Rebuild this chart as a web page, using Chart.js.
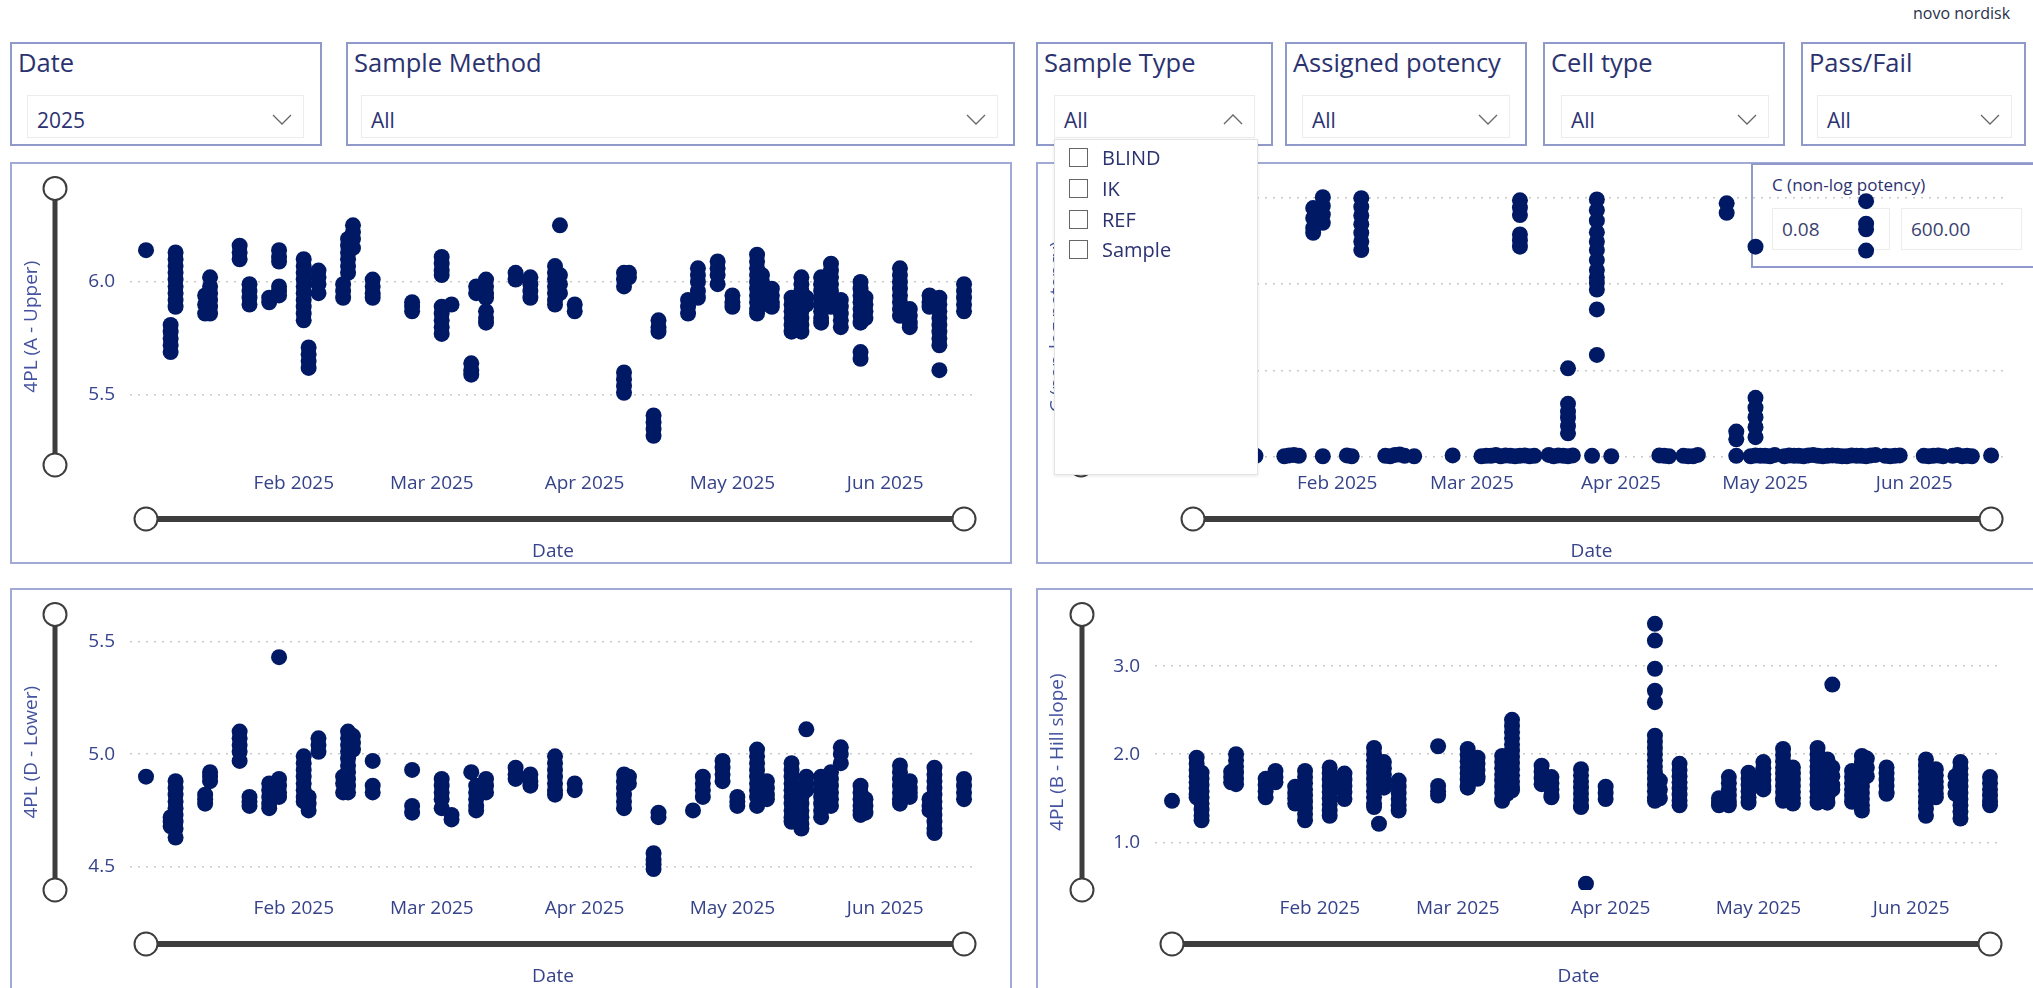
<!DOCTYPE html>
<html>
<head>
<meta charset="utf-8">
<title>4PL parameters</title>
<script src="https://cdn.jsdelivr.net/npm/chart.js@4.4.1/dist/chart.umd.min.js"></script>
<style>
  html, body { margin: 0; padding: 0; background: #fff; }
  body { width: 2033px; height: 988px; position: relative; overflow: hidden; font-family: "Open Sans", sans-serif; color: #2b3270; }
  .abs { position: absolute; }
  .box { position: absolute; box-sizing: border-box; border: 2px solid #8f9acb; background: #fff; }
  .ttl { position: absolute; top: 45px; line-height: 34px; font-size: 25.5px; color: #2b3270; white-space: nowrap; }
  .dd { position: absolute; top: 95px; height: 43px; box-sizing: border-box; border: 1px solid #ececec; background: #fff; }
  .dd span { position: absolute; left: 9px; top: 3px; line-height: 42px; font-size: 21px; color: #2b3270; }
  .dd svg { position: absolute; right: 11px; top: 18px; }
  .panel { position: absolute; box-sizing: border-box; border: 2px solid #a0aad4; background: #fff; }
  canvas { position: absolute; }
  .item { position: absolute; left: 0; height: 30px; width: 200px; }
  .item i { position: absolute; left: 14px; top: 5px; width: 17px; height: 17px; border: 1.5px solid #666; box-sizing: content-box; }
  .item span { position: absolute; left: 47px; top: 0; line-height: 30px; font-size: 20px; color: #2b3270; }
</style>
</head>
<body>

<div class="abs" style="left:1913px;top:1px;font-size:16px;line-height:24px;color:#2a2f4a;">novo nordisk</div>

<!-- slicers -->
<div class="box" style="left:10px;top:42px;width:312px;height:104px;"></div>
<div class="ttl" style="left:18px;">Date</div>
<div class="dd" style="left:27px;width:277px;"><span>2025</span><svg width="20" height="11"><polyline points="1,1 10,10 19,1" fill="none" stroke="#666" stroke-width="1.3"/></svg></div>

<div class="box" style="left:346px;top:42px;width:669px;height:104px;"></div>
<div class="ttl" style="left:354px;">Sample Method</div>
<div class="dd" style="left:361px;width:637px;"><span>All</span><svg width="20" height="11"><polyline points="1,1 10,10 19,1" fill="none" stroke="#666" stroke-width="1.3"/></svg></div>

<div class="box" style="left:1036px;top:42px;width:237px;height:104px;"></div>
<div class="ttl" style="left:1044px;">Sample Type</div>
<div class="dd" style="left:1054px;width:201px;"><span>All</span><svg width="20" height="11"><polyline points="1,10 10,1 19,10" fill="none" stroke="#666" stroke-width="1.3"/></svg></div>

<div class="box" style="left:1285px;top:42px;width:242px;height:104px;"></div>
<div class="ttl" style="left:1293px;">Assigned potency</div>
<div class="dd" style="left:1302px;width:208px;"><span>All</span><svg width="20" height="11"><polyline points="1,1 10,10 19,1" fill="none" stroke="#666" stroke-width="1.3"/></svg></div>

<div class="box" style="left:1543px;top:42px;width:242px;height:104px;"></div>
<div class="ttl" style="left:1551px;">Cell type</div>
<div class="dd" style="left:1561px;width:208px;"><span>All</span><svg width="20" height="11"><polyline points="1,1 10,10 19,1" fill="none" stroke="#666" stroke-width="1.3"/></svg></div>

<div class="box" style="left:1801px;top:42px;width:225px;height:104px;"></div>
<div class="ttl" style="left:1809px;">Pass/Fail</div>
<div class="dd" style="left:1817px;width:195px;"><span>All</span><svg width="20" height="11"><polyline points="1,1 10,10 19,1" fill="none" stroke="#666" stroke-width="1.3"/></svg></div>

<!-- chart panels -->
<div class="panel" style="left:10px;top:162px;width:1002px;height:402px;"></div>
<div class="panel" style="left:1036px;top:162px;width:1010px;height:402px;"></div>
<div class="panel" style="left:10px;top:588px;width:1002px;height:410px;"></div>
<div class="panel" style="left:1036px;top:588px;width:1010px;height:410px;"></div>

<!-- range slicer sitting under the C chart -->
<div class="box" style="left:1751px;top:163px;width:300px;height:105px;z-index:2;">
  <div class="abs" style="left:19px;top:8px;font-size:17px;line-height:24px;color:#2b3270;white-space:nowrap;">C (non-log potency)</div>
  <div class="abs" style="left:19px;top:43px;width:118px;height:42px;box-sizing:border-box;border:1px solid #ececec;font-size:19px;line-height:40px;padding-left:9px;color:#3a4270;">0.08</div>
  <div class="abs" style="left:148px;top:43px;width:121px;height:42px;box-sizing:border-box;border:1px solid #ececec;font-size:19px;line-height:40px;padding-left:9px;color:#3a4270;">600.00</div>
</div>

<canvas id="cUpper" width="1001" height="401" style="left:10px;top:162px;z-index:3;"></canvas>
<canvas id="cPot" width="997" height="401" style="left:1036px;top:162px;z-index:3;"></canvas>
<canvas id="cLower" width="1001" height="400" style="left:10px;top:588px;z-index:3;"></canvas>
<canvas id="cSlope" width="997" height="400" style="left:1036px;top:588px;z-index:3;"></canvas>

<!-- open Sample Type list -->
<div class="abs" style="left:1054px;top:139px;width:202px;height:334px;background:#fff;border:1px solid #e4e4e4;box-shadow:0 1px 3px rgba(0,0,0,0.10);z-index:5;">
  <div class="item" style="top:3px;"><i></i><span>BLIND</span></div>
  <div class="item" style="top:34px;"><i></i><span>IK</span></div>
  <div class="item" style="top:65px;"><i></i><span>REF</span></div>
  <div class="item" style="top:95px;"><i></i><span>Sample</span></div>
</div>

<script>
/* ---------- data (day number: 0 = 1 Jan 2025) ---------- */
const monthTicks = [31, 59, 90, 120, 151];
const monthLabels = ['Feb 2025', 'Mar 2025', 'Apr 2025', 'May 2025', 'Jun 2025'];

// 4PL (A - Upper)
const upperDays = [1, 6, 7, 13, 14, 20, 22, 26, 28, 33, 34, 36, 41, 42, 43, 47, 55, 61, 63, 67, 68, 70, 76, 79,
  84, 85, 88, 98, 99, 104, 105, 111, 113, 117, 120, 125, 126, 128, 132, 134, 135, 138, 140, 142, 146, 147,
  154, 156, 160, 162, 167];
const upperVals = [
  [6.14], [5.81, 5.78, 5.75, 5.72, 5.69], [6.13, 6.10, 6.07, 6.04, 6.01, 5.98, 5.95, 5.92, 5.89],
  [5.94, 5.90, 5.86], [6.02, 5.98, 5.95, 5.92, 5.89, 5.86], [6.16, 6.13, 6.10], [5.99, 5.96, 5.93, 5.90],
  [5.93, 5.91], [6.14, 6.11, 6.09, 5.98, 5.96, 5.94],
  [6.10, 6.07, 6.04, 6.01, 5.98, 5.95, 5.92, 5.89, 5.86, 5.83], [5.71, 5.68, 5.65, 5.62],
  [6.05, 6.02, 5.99, 5.95], [5.99, 5.96, 5.93], [6.19, 6.16, 6.13, 6.10, 6.07, 6.04], [6.25, 6.22, 6.19, 6.15],
  [6.01, 5.98, 5.95, 5.93], [5.91, 5.89, 5.87], [6.11, 6.08, 6.05, 6.03, 5.89, 5.86, 5.83, 5.80, 5.77],
  [5.90], [5.64, 5.61, 5.59], [5.98, 5.95], [6.01, 5.98, 5.95, 5.93, 5.87, 5.84, 5.82], [6.04, 6.01],
  [6.02, 5.99, 5.96, 5.93], [6.07, 6.04, 6.01, 5.98, 5.95, 5.92, 5.90], [6.25, 6.03, 5.99, 5.95],
  [5.90, 5.87], [6.04, 6.01, 5.98, 5.60, 5.57, 5.54, 5.51], [6.04, 6.02], [5.41, 5.38, 5.35, 5.32],
  [5.83, 5.80, 5.78], [5.92, 5.89, 5.86], [6.06, 6.03, 6.00, 5.96, 5.93], [6.09, 6.06, 6.03, 5.99],
  [5.94, 5.91, 5.89], [6.12, 6.09, 6.06, 6.03, 6.00, 5.97, 5.94, 5.91, 5.88, 5.86],
  [6.03, 6.00, 5.97, 5.94, 5.90], [5.97, 5.94, 5.91, 5.89], [5.93, 5.90, 5.87, 5.84, 5.81, 5.78],
  [6.02, 5.99, 5.96, 5.93, 5.90, 5.87, 5.84, 5.81, 5.78], [5.93, 5.90],
  [6.02, 5.99, 5.96, 5.93, 5.90, 5.87, 5.84, 5.82], [6.08, 6.05, 6.02, 5.99, 5.96, 5.93, 5.89],
  [5.92, 5.89, 5.86, 5.83, 5.80], [6.00, 5.97, 5.94, 5.91, 5.88, 5.85, 5.82, 5.69, 5.66],
  [5.93, 5.90, 5.87, 5.84], [6.06, 6.03, 6.00, 5.97, 5.94, 5.91, 5.88, 5.85], [5.88, 5.85, 5.82, 5.80],
  [5.94, 5.91, 5.89], [5.93, 5.90, 5.87, 5.84, 5.81, 5.78, 5.75, 5.72, 5.61], [5.99, 5.96, 5.93, 5.90, 5.87]
];
const upperTicks = [5.5, 6.0];

// 4PL (D - Lower)
const lowerDays = [1, 6, 7, 13, 14, 20, 22, 26, 28, 33, 34, 36, 41, 42, 43, 47, 55, 61, 63, 67, 68, 70, 76, 79,
  84, 88, 98, 99, 104, 105, 112, 114, 118, 121, 125, 127, 132, 134, 135, 138, 140, 142, 146, 147,
  154, 156, 160, 161, 167];
const lowerVals = [
  [4.90], [4.72, 4.70, 4.68], [4.88, 4.85, 4.82, 4.79, 4.76, 4.73, 4.70, 4.67, 4.63], [4.82, 4.80, 4.78],
  [4.92, 4.90, 4.88], [5.10, 5.07, 5.04, 5.01, 4.97], [4.81, 4.79, 4.77], [4.87, 4.84, 4.81, 4.78, 4.76],
  [5.43, 4.89, 4.86, 4.83, 4.81], [4.99, 4.96, 4.93, 4.90, 4.87, 4.84, 4.81, 4.79], [4.81, 4.78, 4.75],
  [5.07, 5.04, 5.01], [4.90, 4.87, 4.83], [5.10, 5.07, 5.04, 5.01, 4.98, 4.95, 4.92, 4.89, 4.86, 4.83],
  [5.08, 5.05, 5.02], [4.97, 4.86, 4.83], [4.93, 4.77, 4.74], [4.89, 4.86, 4.83, 4.80, 4.76], [4.73, 4.71],
  [4.92], [4.86, 4.83, 4.80, 4.77, 4.75], [4.89, 4.86, 4.83], [4.94, 4.91, 4.89], [4.91, 4.88, 4.86],
  [4.99, 4.96, 4.93, 4.90, 4.87, 4.84, 4.82], [4.87, 4.84], [4.91, 4.88, 4.85, 4.82, 4.79, 4.76],
  [4.90, 4.87], [4.56, 4.53, 4.51, 4.49], [4.74, 4.72], [4.75], [4.90, 4.87, 4.84, 4.81],
  [4.97, 4.94, 4.91, 4.88], [4.81, 4.79, 4.77], [5.02, 4.99, 4.96, 4.93, 4.90, 4.87, 4.84, 4.81, 4.77],
  [4.88, 4.85, 4.82, 4.80], [4.96, 4.93, 4.90, 4.87, 4.84, 4.81, 4.78, 4.75, 4.72, 4.70],
  [4.84, 4.81, 4.78, 4.75, 4.72, 4.69, 4.67], [5.11, 4.90, 4.87, 4.84],
  [4.90, 4.87, 4.84, 4.81, 4.78, 4.75, 4.72], [4.92, 4.89, 4.86, 4.83, 4.80, 4.77], [5.03, 5.00, 4.96],
  [4.86, 4.83, 4.80, 4.77, 4.75, 4.73], [4.80, 4.77, 4.74], [4.95, 4.92, 4.89, 4.86, 4.83, 4.80, 4.78],
  [4.88, 4.85, 4.83, 4.81], [4.80, 4.77, 4.75], [4.94, 4.91, 4.88, 4.85, 4.82, 4.79, 4.76, 4.73, 4.70, 4.67, 4.65],
  [4.89, 4.86, 4.83, 4.80]
];
const lowerTicks = [4.5, 5.0, 5.5];

// 4PL (B - Hill slope)
const slopeDays = [1, 6, 7, 13, 14, 20, 22, 26, 28, 33, 36, 42, 43, 44, 47, 55, 61, 63, 68, 69, 70, 76, 78,
  84, 85, 89, 99, 100, 104, 112, 114, 118, 121, 125, 127, 132, 134, 135, 139, 141, 142, 146,
  154, 156, 160, 161, 167];
const slopeVals = [
  [1.47], [1.96, 1.89, 1.82, 1.75, 1.68, 1.61, 1.54, 1.51], [1.79, 1.72, 1.65, 1.58, 1.51, 1.44, 1.37, 1.30, 1.25],
  [1.80, 1.74, 1.68], [2.00, 1.93, 1.86, 1.79, 1.72, 1.66], [1.72, 1.65, 1.58, 1.51], [1.81, 1.74, 1.68],
  [1.63, 1.56, 1.50, 1.44], [1.81, 1.74, 1.67, 1.60, 1.53, 1.46, 1.39, 1.32, 1.25],
  [1.85, 1.78, 1.71, 1.64, 1.57, 1.50, 1.43, 1.36, 1.30], [1.78, 1.71, 1.64, 1.57, 1.49],
  [2.07, 2.00, 1.93, 1.86, 1.79, 1.72, 1.65, 1.58, 1.51, 1.44, 1.40], [1.21], [1.91, 1.84, 1.77, 1.70, 1.62],
  [1.70, 1.63, 1.56, 1.49, 1.42, 1.36], [2.09, 1.64, 1.58, 1.53], [2.06, 1.99, 1.92, 1.85, 1.78, 1.71, 1.64, 1.62],
  [1.96, 1.89, 1.82, 1.75, 1.72], [1.98, 1.91, 1.84, 1.77, 1.70, 1.63, 1.56, 1.49, 1.47], [1.95, 1.85, 1.75, 1.65, 1.55],
  [2.39, 2.32, 2.25, 2.18, 2.11, 2.04, 1.97, 1.90, 1.83, 1.76, 1.69, 1.62, 1.59], [1.87, 1.80, 1.73, 1.66],
  [1.74, 1.67, 1.60, 1.53, 1.51], [1.83, 1.76, 1.69, 1.62, 1.55, 1.48, 1.41, 1.40], [0.53], [1.63, 1.56, 1.49],
  [3.48, 3.29, 2.97, 2.72, 2.59, 2.21, 2.14, 2.07, 2.00, 1.93, 1.86, 1.79, 1.72, 1.65, 1.58, 1.51, 1.47],
  [1.70, 1.60, 1.50], [1.89, 1.82, 1.75, 1.68, 1.61, 1.54, 1.47, 1.42], [1.50, 1.45, 1.42],
  [1.74, 1.67, 1.60, 1.53, 1.46, 1.42], [1.79, 1.72, 1.65, 1.58, 1.51, 1.45], [1.91, 1.84, 1.77, 1.70, 1.63, 1.60],
  [2.06, 1.99, 1.92, 1.85, 1.78, 1.71, 1.64, 1.57, 1.50, 1.47], [1.85, 1.78, 1.71, 1.64, 1.57, 1.50, 1.44],
  [2.07, 2.00, 1.93, 1.86, 1.79, 1.72, 1.65, 1.58, 1.51, 1.45], [1.94, 1.87, 1.80, 1.73, 1.66, 1.59, 1.52, 1.45],
  [2.79, 1.85, 1.75, 1.65, 1.60], [1.81, 1.74, 1.67, 1.60, 1.53, 1.46],
  [1.98, 1.91, 1.84, 1.77, 1.70, 1.63, 1.56, 1.49, 1.42, 1.36], [1.95, 1.85, 1.75], [1.85, 1.78, 1.71, 1.64, 1.57, 1.55],
  [1.94, 1.87, 1.80, 1.73, 1.66, 1.59, 1.52, 1.45, 1.38, 1.30], [1.83, 1.76, 1.69, 1.62, 1.55, 1.51],
  [1.75, 1.65, 1.55], [1.91, 1.84, 1.77, 1.70, 1.63, 1.56, 1.49, 1.42, 1.35, 1.27], [1.74, 1.67, 1.60, 1.53, 1.46, 1.42]
];
const slopeTicks = [1.0, 2.0, 3.0];

// C (non-log potency): high results and the low results near zero
const potHighDays = [26, 28, 36, 69, 79, 85, 112, 114, 118, 141];
const potHighVals = [
  [575, 552, 529, 518], [600, 580, 560, 541], [598, 578, 558, 538, 518, 498, 478],
  [593, 576, 559, 514, 500, 486], [205, 123, 105, 91, 72, 55],
  [595, 570, 546, 519, 498, 478, 455, 432, 415, 402, 387, 341, 236],
  [586, 564], [59, 41], [486, 137, 114, 92, 69, 46], [591, 539, 526, 477]
];
const potLowDays = [1, 6, 7, 13, 14, 20, 21, 22, 23, 28, 33, 34, 41, 42, 43, 44, 45, 47, 55,
  61, 62, 63, 64, 65, 66, 67, 68, 69, 70, 71, 72, 75, 76, 77, 78, 79, 80, 84, 88, 98, 99, 100,
  103, 104, 105, 106, 114, 117, 118, 119, 120, 121, 122, 124, 125, 126, 127, 128, 129, 130,
  131, 132, 133, 134, 135, 136, 137, 138, 139, 140, 141, 142, 143, 145, 146, 147, 148,
  153, 154, 155, 156, 157, 159, 160, 161, 162, 163, 167];
const potLowVals = [3, 2, 4, 2, 3, 2, 4, 5, 3, 2, 4, 2, 3, 2, 5, 6, 3, 2, 4,
  2, 3, 3, 5, 2, 4, 3, 2, 3, 4, 2, 3, 5, 2, 4, 3, 2, 4, 3, 2, 4, 3, 2,
  3, 2, 2, 5, 3, 2, 4, 3, 3, 2, 5, 2, 4, 3, 3, 2, 4, 5,
  3, 2, 3, 4, 3, 2, 2, 4, 3, 3, 2, 4, 5, 3, 2, 3, 4,
  3, 2, 3, 4, 2, 3, 5, 2, 3, 2, 4];
const potTicks = [0, 200, 400, 600];

/* ---------- helpers ---------- */
const NAVY = '#001965';
const TICK = '#36438a';
const FONT = '"Open Sans", sans-serif';
Chart.defaults.font.family = FONT;

function points(days, vals) {
  return days.flatMap((d, i) => [].concat(vals[i]).map(v => ({ x: d, y: v })));
}

// Power BI style zoom sliders (vertical on the value axis, horizontal under the dates)
const zoomSliders = {
  id: 'zoomSliders',
  afterDraw(chart, args, opts) {
    const { ctx, chartArea: a, scales: { x } } = chart;
    const knob = (cx, cy) => {
      ctx.beginPath();
      ctx.arc(cx, cy, 11.5, 0, Math.PI * 2);
      ctx.fillStyle = '#fff';
      ctx.fill();
      ctx.lineWidth = 2;
      ctx.strokeStyle = '#3d3d3d';
      ctx.stroke();
    };
    ctx.save();
    ctx.strokeStyle = '#3d3d3d';
    ctx.lineWidth = 5;
    ctx.beginPath();
    ctx.moveTo(opts.vx, a.top);
    ctx.lineTo(opts.vx, a.bottom);
    ctx.stroke();
    knob(opts.vx, a.top);
    knob(opts.vx, a.bottom);

    const hy = a.bottom + 54;
    const x0 = x.getPixelForValue(opts.from);
    const x1 = x.getPixelForValue(opts.to);
    ctx.strokeStyle = '#3d3d3d';
    ctx.lineWidth = 6;
    ctx.beginPath();
    ctx.moveTo(x0, hy);
    ctx.lineTo(x1, hy);
    ctx.stroke();
    knob(x0, hy);
    knob(x1, hy);
    ctx.restore();
  }
};

function makeChart(id, data, c) {
  const allDays = data.map(p => p.x);
  return new Chart(document.getElementById(id), {
    type: 'scatter',
    data: {
      datasets: [{
        data,
        backgroundColor: NAVY,
        borderWidth: 0,
        pointRadius: 8,
        pointHoverRadius: 8
      }]
    },
    options: {
      responsive: false,
      animation: false,
      devicePixelRatio: 1,
      layout: { padding: { left: 0, top: 22, right: c.padRight, bottom: 0 } },
      plugins: {
        legend: { display: false },
        tooltip: { enabled: false },
        zoomSliders: { vx: c.vx, from: Math.min(...allDays), to: Math.max(...allDays) }
      },
      scales: {
        x: {
          type: 'linear',
          min: c.xMin,
          max: c.xMax,
          grid: { display: false, drawTicks: false },
          border: { display: false },
          afterBuildTicks: s => { s.ticks = monthTicks.map(v => ({ value: v })); },
          afterFit: s => { s.height = 98; },
          ticks: {
            padding: 7, maxRotation: 0, autoSkip: false, color: TICK,
            font: { size: 19 },
            callback: (v, i) => monthLabels[i]
          },
          title: { display: true, text: 'Date', color: TICK, font: { size: 19 }, padding: { top: 0, bottom: 0 } }
        },
        y: {
          min: c.yMin,
          max: c.yMax,
          grid: { color: '#c9c9c9', lineWidth: 1.5, drawTicks: false },
          border: { display: false, dash: [2, 6] },
          afterBuildTicks: s => { s.ticks = c.yTicks.map(v => ({ value: v })); },
          afterFit: s => { s.width = c.yWidth; },
          ticks: {
            padding: 15, color: TICK, font: { size: 19 },
            callback: v => v.toFixed(c.digits)
          },
          title: { display: true, text: c.yTitle, color: '#4453a0', font: { size: 19 }, padding: { top: 10, bottom: 0 } }
        }
      }
    },
    plugins: [zoomSliders]
  });
}

/* ---------- charts ---------- */
makeChart('cUpper', points(upperDays, upperVals), {
  yTitle: '4PL (A - Upper)', yMin: 5.191, yMax: 6.413, yTicks: upperTicks, digits: 1,
  xMin: -2.25, xMax: 169.43, yWidth: 120, padRight: 35, vx: 45
});

makeChart('cPot', points(potHighDays, potHighVals).concat(points(potLowDays, potLowVals)), {
  yTitle: 'C (non-log potency)', yMin: -18.2, yMax: 620.5, yTicks: potTicks, digits: 0,
  xMin: -2.33, xMax: 170.1, yWidth: 141, padRight: 27, vx: 45
});

makeChart('cLower', points(lowerDays, lowerVals), {
  yTitle: '4PL (D - Lower)', yMin: 4.397, yMax: 5.62, yTicks: lowerTicks, digits: 1,
  xMin: -2.25, xMax: 169.43, yWidth: 120, padRight: 35, vx: 45
});

makeChart('cSlope', points(slopeDays, slopeVals), {
  yTitle: '4PL (B - Hill slope)', yMin: 0.458, yMax: 3.587, yTicks: slopeTicks, digits: 1,
  xMin: -2.45, xMax: 169.43, yWidth: 119, padRight: 31, vx: 46
});
</script>
</body>
</html>
